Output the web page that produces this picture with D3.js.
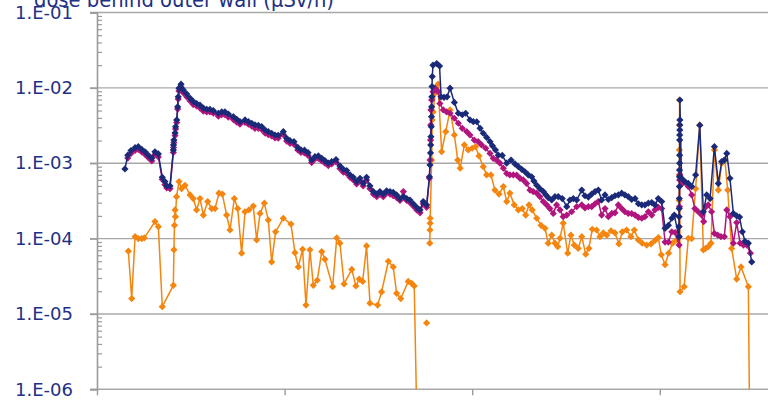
<!DOCTYPE html>
<html>
<head>
<meta charset="utf-8">
<script src="https://cdn.jsdelivr.net/npm/d3@7"></script>
<style>
  html, body { margin: 0; padding: 0; background: #fff; }
  svg { display: block; }
  text { font-family: "DejaVu Sans", Verdana, sans-serif; }
</style>
</head>
<body>
<svg id="chart" width="768" height="400"></svg>
<script>
// Dose rate behind the outer wall along the beam line (µSv/h), three cases.
const titleText = "dose behind outer wall (µSv/h)";

const yTickValues = [1e-6, 1e-5, 1e-4, 1e-3, 1e-2, 1e-1];
const yTickLabels = ["1.E-06", "1.E-05", "1.E-04", "1.E-03", "1.E-02", "1.E-01"];
const xTickValues = [0, 100, 200, 300, 400];

// Series 1 (navy)
const navyPos = [
  14.9, 16.4, 18.1, 20.3, 22.0, 23.8, 25.6, 27.3, 29.2, 30.9, 32.7, 34.8, 36.2, 37.2, 38.9,
  40.7, 40.8, 41.0, 41.6, 41.9, 42.5, 43.0, 43.3, 43.7, 44.8, 46.0, 47.8, 49.6, 51.3, 53.1,
  54.9, 56.7, 58.5, 60.2, 62.0, 64.7, 66.5, 68.2, 70.0, 72.7, 74.5, 76.2, 78.9, 80.7, 82.5,
  84.2, 86.0, 87.8, 89.6, 91.3, 93.1, 94.9, 96.6, 99.3, 101.1, 102.9, 105.0, 107.0, 108.7, 110.6,
  112.5, 114.4, 116.2, 118.0, 119.8, 121.5, 123.3, 125.1, 127.4, 129.5, 131.3, 133.1, 134.9, 136.6, 138.4,
  140.2, 141.9, 143.7, 145.5, 147.3, 149.1, 150.8, 152.6, 154.4, 156.2, 157.9, 159.7, 161.5, 163.3, 165.1,
  166.8, 168.6, 170.4, 172.2, 173.9, 175.7,
  177.2, 177.5, 177.8, 177.9, 178.0, 178.2, 178.3, 178.4, 178.5, 178.6, 178.7, 179.1, 181.1, 182.6,
  183.4, 185.0, 186.6, 188.2, 190.5, 192.6, 194.7, 196.5, 198.8, 200.6, 202.4, 204.2, 205.9, 207.7, 209.5,
  210.8, 212.4, 213.9, 216.0, 218.4, 220.7, 222.8, 224.6, 226.4, 228.1, 229.9, 231.7, 232.9, 234.4, 236.1,
  237.9, 239.3, 240.5, 242.4, 244.1, 245.9, 248.0, 250.4, 252.1, 253.9, 255.7, 258.4, 260.1, 261.9, 263.7,
  265.5, 267.2, 269.0, 270.8, 272.6, 274.4, 276.1, 277.9, 279.7, 281.4, 283.2, 285.0, 286.8, 288.6, 290.4,
  292.1, 293.9, 295.7, 297.4, 299.2, 301.0, 302.8, 304.6, 306.4, 307.7,
  310.2, 310.25, 310.3, 310.35, 310.4, 310.45, 310.5, 310.5, 310.55, 310.55, 310.6, 310.6, 310.65, 310.65, 310.7, 310.7,
  311.6, 313.4, 315.2, 317.0, 319.1, 321.3, 323.2, 325.0, 326.8, 329.1, 331.2, 333.0, 334.4, 335.7, 337.4,
  339.2, 341.0, 342.5, 344.0, 345.4, 347.2, 349.0
];
const navyDose = [
  8.4e-4, 1.28e-3, 1.47e-3, 1.61e-3, 1.66e-3, 1.53e-3, 1.42e-3, 1.28e-3, 1.16e-3, 1.42e-3, 1.33e-3, 6.5e-4, 5.7e-4, 5.0e-4, 5.0e-4,
  1.50e-3, 1.75e-3, 2.03e-3, 2.52e-3, 3.05e-3, 3.75e-3, 5.6e-3, 7.6e-3, 9.9e-3, 1.12e-2, 9.4e-3, 8.3e-3, 7.3e-3, 6.6e-3, 6.2e-3,
  5.9e-3, 5.4e-3, 5.2e-3, 5.2e-3, 5.0e-3, 4.6e-3, 4.8e-3, 4.8e-3, 4.5e-3, 4.15e-3, 3.83e-3, 3.56e-3, 3.75e-3, 3.56e-3, 3.39e-3,
  3.22e-3, 3.18e-3, 3.05e-3, 2.76e-3, 2.62e-3, 2.50e-3, 2.37e-3, 2.35e-3, 2.62e-3, 2.14e-3, 1.99e-3, 1.93e-3, 1.62e-3, 1.50e-3, 1.49e-3,
  1.38e-3, 1.10e-3, 1.22e-3, 1.25e-3, 1.16e-3, 1.08e-3, 1.00e-3, 1.05e-3, 1.12e-3, 9.2e-4, 8.3e-4, 8.0e-4, 7.0e-4, 6.5e-4, 5.7e-4,
  6.3e-4, 5.4e-4, 6.5e-4, 5.0e-4, 4.2e-4, 3.9e-4, 4.2e-4, 3.9e-4, 4.3e-4, 4.2e-4, 4.1e-4, 3.8e-4, 3.4e-4, 3.6e-4, 3.4e-4,
  3.25e-4, 2.9e-4, 2.6e-4, 2.4e-4, 3.1e-4, 2.8e-4,
  6.6e-4, 9.5e-4, 1.37e-3, 1.75e-3, 2.25e-3, 3.05e-3, 4.15e-3, 5.6e-3, 7.6e-3, 1.04e-2, 1.41e-2, 2.0e-2, 2.1e-2, 1.95e-2,
  7.6e-3, 7.5e-3, 7.6e-3, 9.9e-3, 6.4e-3, 4.6e-3, 4.4e-3, 4.6e-3, 3.75e-3, 3.56e-3, 3.55e-3, 2.9e-3, 2.5e-3, 2.2e-3, 1.93e-3,
  1.7e-3, 1.5e-3, 1.28e-3, 1.27e-3, 1.0e-3, 1.1e-3, 9.8e-4, 9.0e-4, 8.3e-4, 7.7e-4, 7.0e-4, 6.6e-4, 5.8e-4, 5.1e-4, 4.6e-4,
  4.2e-4, 3.8e-4, 3.5e-4, 3.25e-4, 3.6e-4, 3.6e-4, 3.4e-4, 2.65e-4, 3.25e-4, 3.4e-4, 3.25e-4, 4.4e-4, 3.7e-4, 3.55e-4, 3.9e-4,
  4.2e-4, 4.4e-4, 3.25e-4, 3.8e-4, 3.3e-4, 3.5e-4, 3.7e-4, 3.8e-4, 4.0e-4, 3.8e-4, 3.6e-4, 3.3e-4, 3.4e-4, 2.9e-4, 2.8e-4,
  2.8e-4, 2.95e-4, 3.0e-4, 2.8e-4, 3.4e-4, 3.1e-4, 1.37e-4, 1.5e-4, 1.86e-4, 2.05e-4,
  1.06e-4, 1.44e-4, 1.95e-4, 2.5e-4, 3.4e-4, 4.9e-4, 6.6e-4, 8.1e-4, 1.0e-3, 1.28e-3, 2.03e-3, 2.37e-3, 2.76e-3, 3.22e-3, 3.75e-3, 6.9e-3,
  6.3e-4, 5.7e-4, 5.4e-4, 4.9e-4, 7.0e-4, 3.2e-3, 2.27e-4, 3.8e-4, 3.4e-4, 1.66e-3, 5.4e-4, 1.05e-3, 1.1e-3, 1.35e-3, 6.3e-4,
  2.16e-4, 2.0e-4, 1.93e-4, 1.23e-4, 9.2e-5, 8.7e-5, 4.9e-5
];

// Series 2 (magenta)
const magentaPos = [
  16.4, 18.1, 20.3, 22.0, 23.8, 25.6, 27.3, 29.2, 30.9, 32.7, 34.8, 36.2, 37.2, 38.9,
  40.7, 40.8, 41.0, 41.6, 41.9, 42.5, 43.0, 43.3, 43.7, 44.8, 46.0, 47.8, 49.6, 51.3, 53.1,
  54.9, 56.7, 58.5, 60.2, 62.0, 64.7, 66.5, 68.2, 70.0, 72.7, 74.5, 76.2, 78.9, 80.7, 82.5,
  84.2, 86.0, 87.8, 89.6, 91.3, 93.1, 94.9, 96.6, 99.3, 101.1, 102.9, 105.0, 107.0, 108.7, 110.6,
  112.5, 114.4, 116.2, 118.0, 119.8, 121.5, 123.3, 125.1, 127.4, 129.5, 131.3, 133.1, 134.9, 136.6, 138.4,
  140.2, 141.9, 143.7, 145.5, 147.3, 149.1, 150.8, 152.6, 154.4, 156.2, 157.9, 159.7, 161.5, 163.3, 165.1,
  166.8, 168.6, 170.4, 172.2, 173.9, 175.7,
  177.2, 177.5, 177.8, 177.9, 178.0, 178.4, 179.1, 180.2, 181.9, 182.8,
  184.6, 186.4, 188.2, 190.5, 192.6, 194.7, 197.1, 198.8, 201.1, 203.2, 205.0, 207.2, 209.5, 211.2, 213.0,
  214.8, 216.6, 218.4, 220.1, 221.9, 223.7, 225.5, 227.2, 229.0, 230.8, 232.5, 234.4, 236.1, 237.9, 239.7,
  241.4, 243.2, 245.0, 246.8, 248.5, 250.4, 253.0, 255.7, 258.4, 260.1, 261.9, 263.7, 265.5, 267.2, 269.0,
  270.8, 272.6, 274.4, 276.1, 277.9, 279.7, 281.4, 283.2, 285.0, 286.8, 288.6, 290.4, 292.1, 293.9, 295.7,
  297.4, 299.2, 301.0, 302.8, 304.6, 306.4, 308.2,
  310.3, 310.4, 310.5, 310.6, 310.7,
  312.1, 315.2, 317.0, 318.7, 320.5, 322.3, 323.4, 324.6, 325.8, 327.6, 329.1, 330.9, 332.6, 334.4, 335.7,
  337.4, 339.2, 341.0, 342.8, 344.6, 346.4, 348.3
];
const magentaDose = [
  1.17e-3, 1.35e-3, 1.48e-3, 1.52e-3, 1.41e-3, 1.31e-3, 1.19e-3, 1.07e-3, 1.31e-3, 1.21e-3, 6.1e-4, 5.2e-4, 4.7e-4, 4.6e-4,
  1.39e-3, 1.62e-3, 1.88e-3, 2.33e-3, 2.84e-3, 3.47e-3, 5.25e-3, 7.1e-3, 9.1e-3, 1.03e-2, 8.6e-3, 7.6e-3, 6.7e-3, 6.0e-3, 5.75e-3,
  5.4e-3, 4.9e-3, 4.8e-3, 4.8e-3, 4.6e-3, 4.2e-3, 4.4e-3, 4.4e-3, 4.1e-3, 3.8e-3, 3.5e-3, 3.3e-3, 3.47e-3, 3.3e-3, 3.1e-3,
  2.9e-3, 2.9e-3, 2.8e-3, 2.5e-3, 2.4e-3, 2.3e-3, 2.16e-3, 2.15e-3, 2.4e-3, 1.97e-3, 1.83e-3, 1.78e-3, 1.5e-3, 1.39e-3, 1.37e-3,
  1.27e-3, 1.02e-3, 1.14e-3, 1.16e-3, 1.07e-3, 1.0e-3, 9.3e-4, 9.8e-4, 1.04e-3, 8.5e-4, 7.6e-4, 7.3e-4, 6.5e-4, 6.0e-4, 5.3e-4,
  5.8e-4, 5.0e-4, 6.0e-4, 4.6e-4, 3.9e-4, 3.6e-4, 3.9e-4, 3.6e-4, 4.0e-4, 3.9e-4, 3.7e-4, 3.5e-4, 3.2e-4, 4.2e-4, 3.2e-4,
  3.0e-4, 2.7e-4, 2.4e-4, 2.2e-4, 2.9e-4, 2.6e-4,
  6.3e-4, 1.1e-3, 2.03e-3, 3.22e-3, 5.1e-3, 6.9e-3, 8.9e-3, 9.9e-3, 8.9e-3, 6.2e-3,
  5.1e-3, 4.8e-3, 4.6e-3, 3.95e-3, 3.39e-3, 2.9e-3, 2.62e-3, 2.37e-3, 2.03e-3, 1.93e-3, 1.75e-3, 1.58e-3, 1.35e-3, 1.16e-3, 1.1e-3,
  1.0e-3, 8.6e-4, 7.3e-4, 7.0e-4, 7.0e-4, 6.95e-4, 6.3e-4, 6.0e-4, 5.4e-4, 4.4e-4, 4.2e-4, 4.0e-4, 3.6e-4, 3.1e-4, 2.8e-4,
  2.5e-4, 2.16e-4, 2.8e-4, 2.4e-4, 1.95e-4, 2.05e-4, 2.27e-4, 2.65e-4, 2.8e-4, 2.55e-4, 2.65e-4, 2.65e-4, 2.9e-4, 3.1e-4, 2.05e-4,
  2.5e-4, 1.95e-4, 2.16e-4, 2.2e-4, 2.8e-4, 2.5e-4, 2.27e-4, 2.16e-4, 2.15e-4, 2.05e-4, 1.91e-4, 1.86e-4, 1.95e-4, 2.27e-4, 2.05e-4,
  2.4e-4, 2.6e-4, 2.5e-4, 9.0e-5, 9.0e-5, 1.23e-4, 1.2e-4,
  8.2e-5, 1.06e-4, 2.65e-4, 6.0e-4, 7.0e-4,
  5.4e-4, 4.9e-4, 3.8e-4, 2.5e-4, 2.27e-4, 2.05e-4, 1.68e-4, 2.65e-4, 2.8e-4, 2.27e-4, 1.17e-4, 1.11e-4, 1.06e-4, 1.06e-4, 2.4e-4,
  1.95e-4, 8.7e-5, 1.63e-4, 8.7e-5, 8.2e-5, 8.2e-5, 6.4e-5
];

// Series 3 (orange); 0 = reading at or below zero, null = no reading
const orangePos = [
  16.7, 18.5, 20.3, 22.0, 23.8, 25.2, 30.9, 32.7, 34.8, 40.7, 41.0, 41.3, 41.6, 41.8, 42.4,
  43.7, 45.1, 46.9, 49.6, 51.3, 53.1, 54.9, 56.7, 59.0, 61.1, 62.9, 65.0, 66.8, 69.1, 70.9,
  73.2, 75.0, 77.1, 78.9, 81.0, 83.3, 85.1, 86.9, 89.2, 91.3, 93.1, 95.2, 99.3, 103.4, 105.5,
  107.3, 109.6, 111.4, 113.5, 115.3, 117.4, 119.8, 121.5, 125.6, 127.8, 129.5, 131.7, 135.8, 138.0, 139.8,
  141.6, 143.7, 145.5, 149.6, 151.7, 155.3, 157.9, 159.7, 161.9, 165.9, 167.7, 169.1, 170.8,
  173.0, 175.7, 176.5,
  177.4, 177.5, 177.6, 177.6, 178.4, 178.7, 179.2, 180.2, 181.8, 183.7, 185.9, 188.2, 190.5, 192.3, 193.6,
  195.8, 197.9, 200.0, 201.8, 203.6, 205.9, 207.7, 210.0, 212.1, 214.3, 216.6, 218.4, 220.1, 222.4, 224.6,
  226.7, 228.5, 230.3, 232.0, 234.4, 236.7, 238.8, 240.5, 242.4, 244.1, 245.6, 246.8, 248.5, 250.9, 252.6,
  254.4, 256.5, 258.4, 260.5, 262.2, 264.0, 266.3, 268.1, 269.9, 271.7, 274.0, 276.1, 278.2, 280.0, 282.3,
  284.6, 286.4, 288.6, 290.6, 293.0, 295.3, 297.4, 299.2, 300.8, 302.8, 304.7, 306.8, 308.9,
  310.3, 310.35, 310.4, 310.45, 310.5, 310.55, 310.8,
  313.0, 315.2, 317.0, 319.1, 321.3, 323.2, 324.4, 325.8, 327.3, 329.1, 331.2, 333.0, 334.7, 336.2, 338.3,
  341.0, 343.3, 347.2, 348.0
];
const orangeDose = [
  6.8e-5, 1.6e-5, 1.06e-4, 1.0e-4, 1.0e-4, 1.02e-4, 1.68e-4, 1.44e-4, 1.25e-5, 2.4e-5, 7.1e-5, 1.5e-4, 2.4e-4, 1.95e-4, 3.6e-4,
  5.7e-4, 4.6e-4, 5.1e-4, 3.8e-4, 3.4e-4, 2.4e-4, 3.4e-4, 2.05e-4, 3.1e-4, 2.5e-4, 2.5e-4, 4.0e-4, 3.9e-4, 2.05e-4, 1.3e-4,
  3.4e-4, 2.5e-4, 6.4e-5, 2.27e-4, 2.4e-4, 2.7e-4, 9.6e-5, 2.16e-4, 2.95e-4, 1.76e-4, 4.9e-5, 1.23e-4, 1.86e-4, 1.56e-4, 6.5e-5,
  4.2e-5, 7.2e-5, 1.31e-5, 7.1e-5, 2.4e-5, 2.8e-5, 6.7e-5, 5.3e-5, 2.3e-5, 1.02e-4, 8.7e-5, 2.5e-5, 3.9e-5, 2.35e-5, 2.9e-5,
  2.7e-5, 8.0e-5, 1.39e-5, 1.31e-5, 1.96e-5, 5.0e-5, 4.2e-5, 1.88e-5, 1.6e-5, 2.7e-5, 2.55e-5, 2.35e-5, 0,
  null, 7.6e-6, null,
  8.7e-5, 1.3e-4, 1.6e-4, 1.86e-4, 1.1e-3, 3.75e-3, 4.8e-3, 8.5e-3, 1.12e-2, 1.42e-3, 2.62e-3, 5.1e-3, 2.37e-3, 1.1e-3, 8.6e-4,
  1.75e-3, 1.5e-3, 1.58e-3, 1.66e-3, 1.25e-3, 9.0e-4, 7.0e-4, 7.0e-4, 4.4e-4, 3.9e-4, 4.9e-4, 3.1e-4, 4.0e-4, 2.8e-4, 2.4e-4,
  2.5e-4, 2.05e-4, 2.8e-4, 2.4e-4, 1.86e-4, 1.5e-4, 1.37e-4, 8.7e-5, 1.11e-4, 8.7e-5, 7.8e-5, 1.01e-4, 1.6e-4, 6.4e-5, 1.11e-4,
  8.2e-5, 7.4e-5, 1.06e-4, 6.2e-5, 7.4e-5, 1.33e-4, 1.3e-4, 1.06e-4, 1.19e-4, 1.11e-4, 1.27e-4, 1.19e-4, 8.5e-5, 1.23e-4, 1.3e-4,
  1.06e-4, 1.3e-4, 9.6e-5, 8.7e-5, 8.2e-5, 8.5e-5, 9.4e-5, 1.03e-4, 6.1e-5, 4.5e-5, 6.4e-5, 8.7e-5, 9.6e-5,
  1.45e-4, 3.2e-4, 7.0e-4, 1.5e-3, 3.2e-3, 6.9e-3, 1.97e-5,
  2.3e-5, 1.01e-4, 1.0e-4, 4.6e-4, 3.2e-3, 7.1e-5, 7.4e-5, 7.8e-5, 8.7e-5, 1.5e-3, 4.4e-4, 1.0e-3, 1.1e-3, 4.4e-4, 7.4e-5,
  2.9e-5, 4.2e-5, 2.3e-5, 0
];

const seriesList = [
  { name: "orange", color: "#f4850e", pos: orangePos, dose: orangeDose },
  { name: "magenta", color: "#b0157e", pos: magentaPos, dose: magentaDose },
  { name: "navy", color: "#1b2a78", pos: navyPos, dose: navyDose }
];

const svg = d3.select("#chart");
const W = 768;
const plot = { left: 97, top: 12.5, bottom: 389.3 };

const x = d3.scaleLinear().domain([0, 400]).range([plot.left, plot.left + 4 * 187.6]);
const y = d3.scaleLog().domain([1e-6, 1e-1]).range([plot.bottom, plot.top]);

const textColor = "#1f3183";
const gridColor = "#a8a8a8";
const axisColor = "#9a9a9a";

// Title (its top runs past the upper edge of the canvas)
svg.append("text")
  .attr("x", 34).attr("y", 7)
  .attr("font-size", 22)
  .attr("textLength", 300)
  .attr("lengthAdjust", "spacingAndGlyphs")
  .attr("fill", textColor)
  .text(titleText);

// Horizontal gridlines at each decade
svg.append("g").selectAll("line")
  .data(yTickValues)
  .join("line")
  .attr("x1", 90).attr("x2", W)
  .attr("y1", d => y(d)).attr("y2", d => y(d))
  .attr("stroke", gridColor)
  .attr("stroke-width", 1.4);

// Minor ticks (2..9 in each decade), inside the axis
const minorVals = [];
for (let e = -6; e < -1; e++) for (let k = 2; k <= 9; k++) minorVals.push(k * Math.pow(10, e));
const minorAxis = d3.axisRight(y).tickValues(minorVals).tickSize(5).tickFormat("");
svg.append("g")
  .attr("transform", `translate(${plot.left},0)`)
  .call(minorAxis)
  .call(g => g.select(".domain").remove())
  .call(g => g.selectAll(".tick line").attr("stroke", axisColor).attr("stroke-width", 1.2));

// Major ticks and labels
const yAxis = d3.axisLeft(y)
  .tickValues(yTickValues)
  .tickSize(7)
  .tickPadding(17)
  .tickFormat((d, i) => yTickLabels[i]);
svg.append("g")
  .attr("transform", `translate(${plot.left},0)`)
  .call(yAxis)
  .call(g => g.select(".domain").attr("stroke", axisColor).attr("stroke-width", 1.6))
  .call(g => g.selectAll(".tick line").attr("stroke", axisColor).attr("stroke-width", 1.4))
  .call(g => g.selectAll(".tick text")
    .attr("fill", textColor)
    .attr("font-size", 18)
    .attr("textLength", 58)
    .attr("lengthAdjust", "spacingAndGlyphs")
    .attr("font-family", "'DejaVu Sans', Verdana, sans-serif"));

// Bottom axis ticks
const xAxis = d3.axisBottom(x).tickValues(xTickValues).tickSize(6).tickFormat("");
svg.append("g")
  .attr("transform", `translate(0,${plot.bottom})`)
  .call(xAxis)
  .call(g => g.select(".domain").remove())
  .call(g => g.selectAll(".tick line").attr("stroke", axisColor).attr("stroke-width", 1.4));

// Plot clip so readings at zero run off the bottom edge
svg.append("defs").append("clipPath").attr("id", "plotClip")
  .append("rect")
  .attr("x", plot.left).attr("y", 0)
  .attr("width", W - plot.left).attr("height", plot.bottom);

const yPos = v => (v > 0 ? y(v) : plot.bottom + 60);

const diamond = r => `M0,${-r}L${r},0L0,${r}L${-r},0Z`;

const layer = svg.append("g").attr("clip-path", "url(#plotClip)");

seriesList.forEach(s => {
  const pts = s.pos.map((p, i) => ({ p, v: s.dose[i] }));
  const line = d3.line()
    .defined(d => d.v !== null)
    .x(d => x(d.p))
    .y(d => yPos(d.v));
  const g = layer.append("g").attr("class", "series-" + s.name);
  g.append("path")
    .datum(pts)
    .attr("d", line)
    .attr("fill", "none")
    .attr("stroke", s.color)
    .attr("stroke-width", 1.5)
    .attr("stroke-linejoin", "round");
  g.selectAll("path.mk")
    .data(pts.filter(d => d.v !== null && d.v > 0))
    .join("path")
    .attr("class", "mk")
    .attr("transform", d => `translate(${x(d.p)},${y(d.v)})`)
    .attr("d", diamond(3.6))
    .attr("fill", s.color);
});
</script>
</body>
</html>
